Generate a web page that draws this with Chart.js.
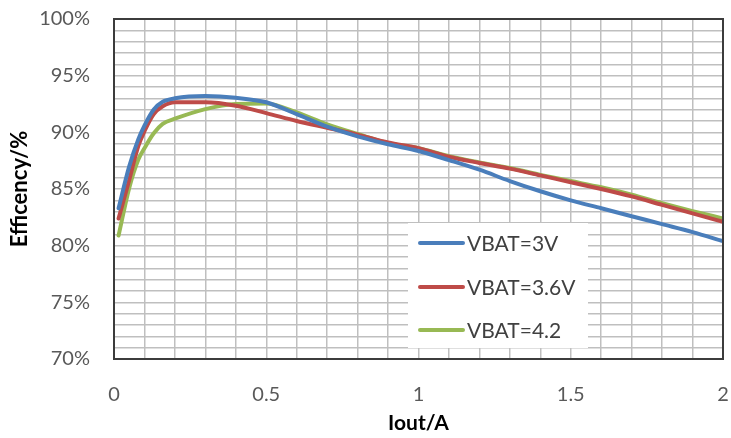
<!DOCTYPE html>
<html>
<head>
<meta charset="utf-8">
<script src="https://cdn.jsdelivr.net/npm/chart.js@4/dist/chart.umd.min.js"></script>
<style>
  html, body { margin: 0; padding: 0; background: #ffffff; }
  #wrap { width: 731px; height: 438px; position: relative; }
</style>
</head>
<body>
<div id="wrap"><canvas id="c"></canvas></div>
<script>
// ---- Data ----
const currentA = [0.015, 0.05, 0.08, 0.1, 0.13, 0.16, 0.2, 0.3, 0.4, 0.5, 0.6, 0.7, 0.8, 0.9, 1.0,
                  1.1, 1.2, 1.3, 1.4, 1.5, 1.6, 1.7, 1.8, 1.9, 2.0];
const effVbat3V  = [83.3, 87.0, 89.4, 90.6, 92.0, 92.7, 93.0, 93.2, 93.05, 92.65, 91.6, 90.5, 89.65, 88.95, 88.35,
                    87.55, 86.7, 85.7, 84.8, 84.0, 83.3, 82.6, 81.9, 81.2, 80.4];
const effVbat36V = [82.4, 85.8, 88.8, 90.1, 91.6, 92.3, 92.65, 92.65, 92.35, 91.7, 91.0, 90.4, 89.8, 89.1, 88.6,
                    87.85, 87.3, 86.8, 86.2, 85.6, 85.0, 84.35, 83.6, 82.85, 82.1];
const effVbat42V = [80.9, 85.1, 87.6, 88.6, 89.9, 90.75, 91.2, 92.05, 92.5, 92.55, 91.75, 90.7, 89.85, 89.05, 88.6,
                    87.9, 87.35, 86.85, 86.25, 85.7, 85.15, 84.5, 83.75, 83.05, 82.4];
const seriesNames = ['VBAT=3V', 'VBAT=3.6V', 'VBAT=4.2'];
const xTickLabels = ['0', '0.5', '1', '1.5', '2'];
const yTickLabels = ['70%', '75%', '80%', '85%', '90%', '95%', '100%'];
const xTitle = 'Iout/A';
const yTitle = 'Efficency/%';

const colors = ['#4a7ebb', '#be4b48', '#98b954'];
const seriesValues = [effVbat3V, effVbat36V, effVbat42V];

function toPoints(vals) { return currentA.map((x, i) => ({ x: x, y: vals[i] })); }

const FONT = 'Lato, "Open Sans", sans-serif';

function noPad(scale) {
  scale.paddingTop = 0; scale.paddingBottom = 0;
  scale.paddingLeft = 0; scale.paddingRight = 0;
}

const frameAndLegend = {
  id: 'frameAndLegend',
  afterDatasetsDraw(chart) {
    const ctx = chart.ctx;
    const a = chart.chartArea;
    ctx.save();
    // legend box inside the plot area
    const bx = 408, by = 223, bw = 180, bh = 125;
    ctx.fillStyle = '#ffffff';
    ctx.fillRect(bx, by, bw, bh);
    const rows = [243, 287, 330];
    chart.data.datasets.forEach((ds, i) => {
      ctx.strokeStyle = ds.borderColor;
      ctx.lineWidth = 4;
      ctx.lineCap = 'round';
      ctx.beginPath();
      ctx.moveTo(420, rows[i]);
      ctx.lineTo(463, rows[i]);
      ctx.stroke();
      ctx.fillStyle = '#404040';
      ctx.font = '21px ' + FONT;
      ctx.textBaseline = 'middle';
      ctx.textAlign = 'left';
      ctx.fillText(ds.label, 467, rows[i] + 1);
    });
    // plot frame
    ctx.strokeStyle = '#3c3c3c';
    ctx.lineWidth = 2;
    ctx.lineCap = 'butt';
    ctx.strokeRect(a.left, a.top, a.right - a.left, a.bottom - a.top);
    ctx.restore();
  }
};

new Chart(document.getElementById('c'), {
  type: 'scatter',
  data: {
    datasets: seriesValues.map((vals, i) => ({
      label: seriesNames[i],
      data: toPoints(vals),
      showLine: true,
      borderColor: colors[i],
      backgroundColor: colors[i],
      borderWidth: 4,
      pointRadius: 0,
      cubicInterpolationMode: 'monotone',
      borderCapStyle: 'round',
      borderJoinStyle: 'round'
    }))
  },
  options: {
    responsive: true,
    maintainAspectRatio: false,
    animation: false,
    devicePixelRatio: 1,
    layout: { padding: { left: 0, right: 8, top: 19, bottom: 0 } },
    plugins: { legend: { display: false }, tooltip: { enabled: false } },
    scales: {
      x: {
        type: 'linear',
        min: 0, max: 2,
        afterFit(scale) { scale.height = 79; noPad(scale); },
        ticks: {
          stepSize: 0.1,
          autoSkip: false,
          maxRotation: 0,
          padding: 24,
          color: '#595959',
          font: { family: FONT, size: 20 },
          callback(v) {
            const k = Math.round(v * 10);
            return (k % 5 === 0) ? xTickLabels[k / 5] : '';
          }
        },
        grid: { color: '#bfbfbf', lineWidth: 1.5, drawTicks: false },
        border: { display: false },
        title: {
          display: true, text: xTitle, color: '#000000',
          font: { family: FONT, size: 21, weight: 'bold' },
          padding: { top: 0, bottom: 2 }
        }
      },
      y: {
        min: 70, max: 100,
        afterFit(scale) { scale.width = 114; noPad(scale); },
        ticks: {
          stepSize: 1,
          autoSkip: false,
          padding: 24,
          color: '#595959',
          font: { family: FONT, size: 20 },
          callback(v) {
            const k = Math.round(v);
            return ((k - 70) % 5 === 0) ? yTickLabels[(k - 70) / 5] : '';
          }
        },
        grid: { color: '#bfbfbf', lineWidth: 1.5, drawTicks: false },
        border: { display: false },
        title: {
          display: true, text: yTitle, color: '#000000',
          font: { family: FONT, size: 22, weight: 'bold' },
          padding: { top: 7, bottom: 0 }
        }
      }
    }
  },
  plugins: [frameAndLegend]
});
</script>
</body>
</html>
